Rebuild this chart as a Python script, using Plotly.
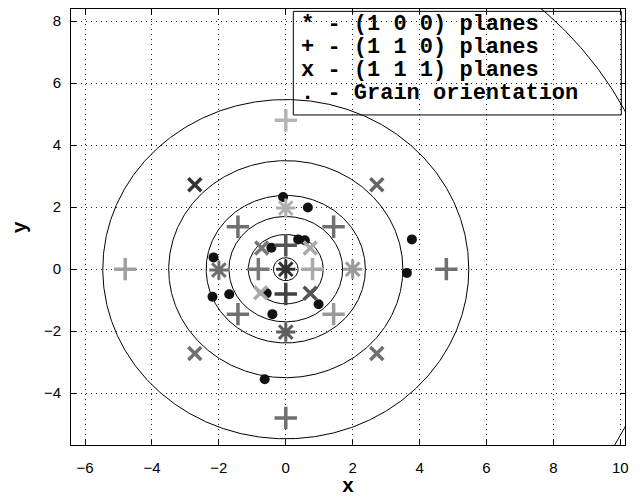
import numpy as np
import plotly.graph_objects as go

# ---- data ----
# (1 0 0) planes  (asterisks)
p100_x = [0.0, 0.0, -2.0, 2.0, 0.0]
p100_y = [0.0, 1.97, -0.03, 0.0, -2.03]
p100_c = ["#333333", "#b0b0b0", "#6e6e6e", "#9a9a9a", "#5e5e5e"]

# (1 1 0) planes  (plus)
p110_x = [0.0, 0.0, -0.82, 0.8, -1.43, 1.43, -1.43, 1.43, 0.0, -4.8, 4.8, 0.0]
p110_y = [0.77, -0.8, 0.0, 0.0, 1.37, 1.37, -1.45, -1.45, 4.8, 0.0, 0.0, -4.8]
p110_c = ["#555555", "#404040", "#777777", "#aaaaaa", "#707070", "#707070",
          "#707070", "#9a9a9a", "#b5b5b5", "#a0a0a0", "#707070", "#707070"]

# (1 1 1) planes  (x)
p111_x = [-0.72, 0.73, -0.75, 0.73, -2.72, 2.72, -2.72, 2.72]
p111_y = [0.68, 0.68, -0.76, -0.78, 2.72, 2.72, -2.72, -2.72]
p111_c = ["#777777", "#aaaaaa", "#aaaaaa", "#555555",
          "#333333", "#666666", "#707070", "#707070"]

# grain orientation (dots)
grain_x = [-0.08, 0.66, 0.37, 0.57, -0.43, -2.16, -2.19, -1.69, -0.57, 0.98, -0.4, -0.63, 3.77, 3.62]
grain_y = [2.33, 1.99, 0.96, 0.93, 0.69, 0.38, -0.89, -0.81, -0.78, -1.13, -1.45, -3.55, 0.96, -0.12]

# reference circles (radii)
circle_r = [0.37, 1.12, 1.7, 2.38, 3.5, 5.47, 11.35]

x_ticks = [-6, -4, -2, 0, 2, 4, 6, 8, 10]
y_ticks = [-4, -2, 0, 2, 4, 6, 8]

legend_lines = ["* - (1 0 0) planes", "+ - (1 1 0) planes",
                "x - (1 1 1) planes", ". - Grain orientation"]

fig = go.Figure()

t = np.linspace(0, 2 * np.pi, 721)
for r in circle_r:
    fig.add_trace(go.Scatter(x=r * np.cos(t), y=r * np.sin(t), mode="lines",
                             line=dict(color="black", width=1), hoverinfo="skip",
                             showlegend=False))

fig.add_trace(go.Scatter(x=grain_x, y=grain_y, mode="markers", showlegend=False,
                         marker=dict(symbol="circle", size=10, color="#111111",
                                     line=dict(width=0))))
fig.add_trace(go.Scatter(x=p110_x, y=p110_y, mode="markers", showlegend=False,
                         marker=dict(symbol="cross-thin-open", size=16, color=p110_c,
                                     line=dict(width=3.5))))
fig.add_trace(go.Scatter(x=p111_x, y=p111_y, mode="markers", showlegend=False,
                         marker=dict(symbol="x-thin-open", size=13, color=p111_c,
                                     line=dict(width=3.5))))
fig.add_trace(go.Scatter(x=p100_x, y=p100_y, mode="markers", showlegend=False,
                         marker=dict(symbol="asterisk-open", size=16, color=p100_c,
                                     line=dict(width=3))))

axis_common = dict(showline=True, linecolor="black", linewidth=1, mirror="ticks",
                   ticks="inside", ticklen=5, tickcolor="black", automargin=False,
                   showgrid=True, gridcolor="#222222", gridwidth=1, griddash="1px,4px",
                   zeroline=False,
                   tickfont=dict(family="Liberation Sans, Arial", size=15, color="black"))

fig.update_xaxes(range=[-6.42, 10.14], tickvals=x_ticks,
                 ticktext=[str(v).replace("-", "\u2212") for v in x_ticks],
                 ticklabelstandoff=9, **axis_common)
fig.update_yaxes(range=[-5.67, 8.39], tickvals=y_ticks,
                 ticktext=[str(v).replace("-", "\u2212") for v in y_ticks],
                 ticklabelstandoff=6, **axis_common)

# axis titles
fig.add_annotation(xref="paper", yref="paper", x=0.5, y=-0.0963, yanchor="middle", showarrow=False,
                   text="<b>x</b>", font=dict(family="Liberation Mono", size=20, color="black"))
fig.add_annotation(xref="paper", yref="paper", x=-0.0915, y=0.5, xanchor="center", yanchor="middle",
                   showarrow=False, textangle=-90,
                   text="<b>y</b>", font=dict(family="Liberation Mono", size=20, color="black"))

# legend box (text-only legend as in the original)
fig.add_shape(type="rect", xref="paper", yref="paper", x0=0.4013, x1=0.9933, y0=0.757, y1=0.9946,
              line=dict(color="black", width=1), fillcolor="rgba(0,0,0,0)")
legend_y = [0.9640, 0.9112, 0.8584, 0.8056]
for s, yy in zip(legend_lines, legend_y):
    fig.add_annotation(xref="paper", yref="paper", x=0.413, y=yy,
                       xanchor="left", yanchor="middle", showarrow=False,
                       text="<b>" + s + "</b>", borderpad=0,
                       font=dict(family="Liberation Mono", size=22, color="black"))

# the page body adds an 8px offset; margins compensate for it
fig.update_layout(width=640, height=499, plot_bgcolor="white", paper_bgcolor="white",
                  margin=dict(l=62.7, r=23.3, t=0.7, b=62), showlegend=False)

fig.write_html("out.html")
